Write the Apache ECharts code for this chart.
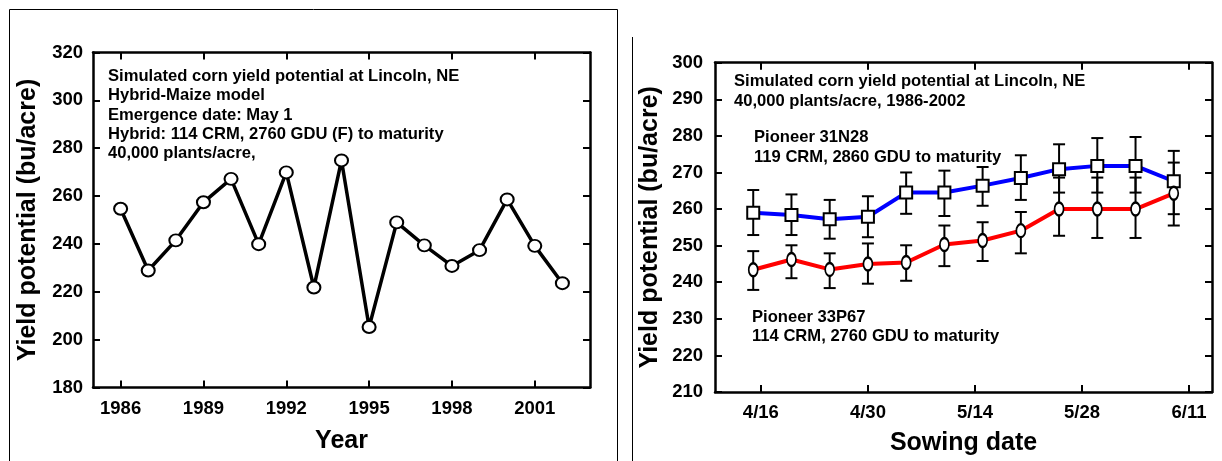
<!DOCTYPE html>
<html><head><meta charset="utf-8">
<script src="https://cdn.jsdelivr.net/npm/echarts@6/dist/echarts.min.js"></script>
<style>html,body{margin:0;padding:0;background:#fff}#c{width:1222px;height:461px}</style>
</head><body><div id="c"></div>
<script>
// ---- Left chart data ----
const years = [1986,1987,1988,1989,1990,1991,1992,1993,1994,1995,1996,1997,1998,1999,2000,2001,2002];
const yieldByYear = [254.7,228.9,241.5,257.4,267.2,239.9,269.9,221.8,274.9,205.3,249.0,239.4,230.8,237.4,258.6,239.2,223.6];
const yearTicks = [1986,1989,1992,1995,1998,2001];
const leftNotes = ['Simulated corn yield potential at Lincoln, NE','Hybrid-Maize model','Emergence date: May 1','Hybrid: 114 CRM, 2760 GDU (F) to maturity','40,000 plants/acre,'];

// ---- Right chart data ----
const sowingDays = [105,110,115,120,125,130,135,140,145,150,155,160]; // day of year
const dateTickDays = [106,120,134,148,162];
const dateTickLabels = ['4/16','4/30','5/14','5/28','6/11'];
const p31N28Mean = [259.0,258.4,257.2,257.9,264.5,264.5,266.4,268.5,270.9,271.8,271.8,267.6];
const p31N28High = [265.2,264.0,262.5,263.5,270.0,270.5,271.5,274.7,277.7,279.4,279.7,275.9];
const p31N28Low  = [252.9,252.9,251.9,252.3,258.7,258.1,260.9,262.5,264.5,264.5,264.5,258.6];
const p33P67Mean = [243.4,246.2,243.5,245.0,245.4,250.3,251.4,254.1,260.0,260.0,260.0,264.3];
const p33P67High = [248.5,250.1,247.9,250.6,250.1,255.5,256.4,259.2,268.6,268.6,268.6,272.7];
const p33P67Low  = [237.9,241.1,238.4,239.6,240.4,244.4,245.8,247.9,252.7,252.1,252.1,255.5];
const rightNotes = ['Simulated corn yield potential at Lincoln, NE','40,000 plants/acre, 1986-2002'];
const note31N28 = ['Pioneer 31N28','119 CRM, 2860 GDU to maturity'];
const note33P67 = ['Pioneer 33P67','114 CRM, 2760 GDU to maturity'];

const FONT = "'Liberation Sans', Arial, Helvetica, sans-serif";
const chart = echarts.init(document.getElementById('c'), null, {renderer:'canvas'});

const tickStyle = {show:true, inside:true, length:7, lineStyle:{color:'#000', width:2}};
const lineStyleAx = {show:true, lineStyle:{color:'#000', width:2.5}};
const lbl = {color:'#000', fontFamily:FONT, fontWeight:'bold', fontSize:18.5};
const nameStyle = {color:'#000', fontFamily:FONT, fontWeight:'bold', fontSize:25};

function errorBars(xi, yi, lows, highs){
  return {
    type:'custom', xAxisIndex:xi, yAxisIndex:yi, z:1, silent:true,
    data: sowingDays.map((d,i)=>[d, lows[i], highs[i]]),
    encode:{x:0, y:[1,2]},
    renderItem(params, api){
      const x = api.value(0);
      const lo = api.coord([x, api.value(1)]);
      const hi = api.coord([x, api.value(2)]);
      const hw = 6;
      const st = {stroke:'#000', lineWidth:2};
      return {type:'group', children:[
        {type:'line', shape:{x1:lo[0],y1:lo[1],x2:hi[0],y2:hi[1]}, style:st},
        {type:'line', shape:{x1:lo[0]-hw,y1:lo[1],x2:lo[0]+hw,y2:lo[1]}, style:st},
        {type:'line', shape:{x1:hi[0]-hw,y1:hi[1],x2:hi[0]+hw,y2:hi[1]}, style:st}
      ]};
    }
  };
}

function noteTexts(lines, x, y0, step){
  return lines.map((t,i)=>({type:'text', x:x, y:y0+i*step, silent:true,
    style:{text:t, font:'bold 16.6px '+FONT, fill:'#000', verticalAlign:'middle', align:'left'}}));
}

const option = {
  animation:false,
  backgroundColor:'#fff',
  grid:[
    {left:93, top:52.5, width:497, height:335},
    {left:715, top:62.7, width:497, height:336}
  ],
  xAxis:[
    {gridIndex:0, type:'value', position:'bottom', min:1985, max:2003,
     name:'Year', nameLocation:'middle', nameGap:41, nameTextStyle:nameStyle,
     axisLine:lineStyleAx, splitLine:{show:false},
     axisTick:Object.assign({customValues:yearTicks}, tickStyle),
     axisLabel:Object.assign({customValues:yearTicks, margin:12, formatter:v=>String(v)}, lbl)},
    {gridIndex:0, type:'value', position:'top', min:1985, max:2003,
     axisLine:lineStyleAx, splitLine:{show:false},
     axisTick:Object.assign({customValues:yearTicks}, tickStyle),
     axisLabel:{show:false}},
    {gridIndex:1, type:'value', position:'bottom', min:100, max:165,
     name:'Sowing date', nameLocation:'middle', nameGap:39, nameTextStyle:nameStyle,
     axisLine:lineStyleAx, splitLine:{show:false},
     axisTick:Object.assign({customValues:dateTickDays}, tickStyle),
     axisLabel:Object.assign({customValues:dateTickDays, margin:11,
       formatter:v=>dateTickLabels[dateTickDays.indexOf(v)] || ''}, lbl)},
    {gridIndex:1, type:'value', position:'top', min:100, max:165,
     axisLine:lineStyleAx, splitLine:{show:false},
     axisTick:Object.assign({customValues:dateTickDays}, tickStyle),
     axisLabel:{show:false}}
  ],
  yAxis:[
    {gridIndex:0, type:'value', position:'left', min:180, max:320, interval:20,
     name:'Yield potential (bu/acre)', nameLocation:'middle', nameGap:52, nameTextStyle:nameStyle,
     axisLine:lineStyleAx, splitLine:{show:false}, axisTick:tickStyle,
     axisLabel:Object.assign({margin:10}, lbl)},
    {gridIndex:0, type:'value', position:'right', min:180, max:320, interval:20,
     axisLine:lineStyleAx, splitLine:{show:false}, axisTick:tickStyle, axisLabel:{show:false}},
    {gridIndex:1, type:'value', position:'left', min:210, max:300, interval:10,
     name:'Yield potential (bu/acre)', nameLocation:'middle', nameGap:52, nameTextStyle:nameStyle,
     axisLine:lineStyleAx, splitLine:{show:false}, axisTick:tickStyle,
     axisLabel:Object.assign({margin:12}, lbl)},
    {gridIndex:1, type:'value', position:'right', min:210, max:300, interval:10,
     axisLine:lineStyleAx, splitLine:{show:false}, axisTick:tickStyle, axisLabel:{show:false}}
  ],
  series:[
    {type:'line', xAxisIndex:0, yAxisIndex:0, z:3,
     data: years.map((y,i)=>[y, yieldByYear[i]]),
     symbol:'circle', symbolSize:[13,12], showAllSymbol:true,
     lineStyle:{color:'#000', width:3.5},
     itemStyle:{color:'#fff', borderColor:'#000', borderWidth:2}},
    errorBars(2, 2, p31N28Low, p31N28High),
    errorBars(2, 2, p33P67Low, p33P67High),
    {type:'line', xAxisIndex:2, yAxisIndex:2, z:3,
     data: sowingDays.map((d,i)=>[d, p31N28Mean[i]]),
     symbol:'rect', symbolSize:12, showAllSymbol:true,
     lineStyle:{color:'#0000ff', width:4},
     itemStyle:{color:'#fff', borderColor:'#000', borderWidth:2}},
    {type:'line', xAxisIndex:2, yAxisIndex:2, z:3,
     data: sowingDays.map((d,i)=>[d, p33P67Mean[i]]),
     symbol:'circle', symbolSize:[9,13], showAllSymbol:true,
     lineStyle:{color:'#ff0000', width:4},
     itemStyle:{color:'#fff', borderColor:'#000', borderWidth:2}}
  ],
  graphic:[
    {type:'rect', silent:true, shape:{x:9.5, y:9.5, width:608, height:480},
     style:{fill:'none', stroke:'#000', lineWidth:1}},
    {type:'line', silent:true, shape:{x1:632.5, y1:37, x2:632.5, y2:461},
     style:{stroke:'#000', lineWidth:1}}
  ].concat(noteTexts(leftNotes, 108, 76.7, 19.2))
   .concat(noteTexts(rightNotes, 734, 81.7, 19.5))
   .concat(noteTexts(note31N28, 754, 137.3, 20))
   .concat(noteTexts(note33P67, 752, 317.3, 19.5))
};
chart.setOption(option);
</script></body></html>
